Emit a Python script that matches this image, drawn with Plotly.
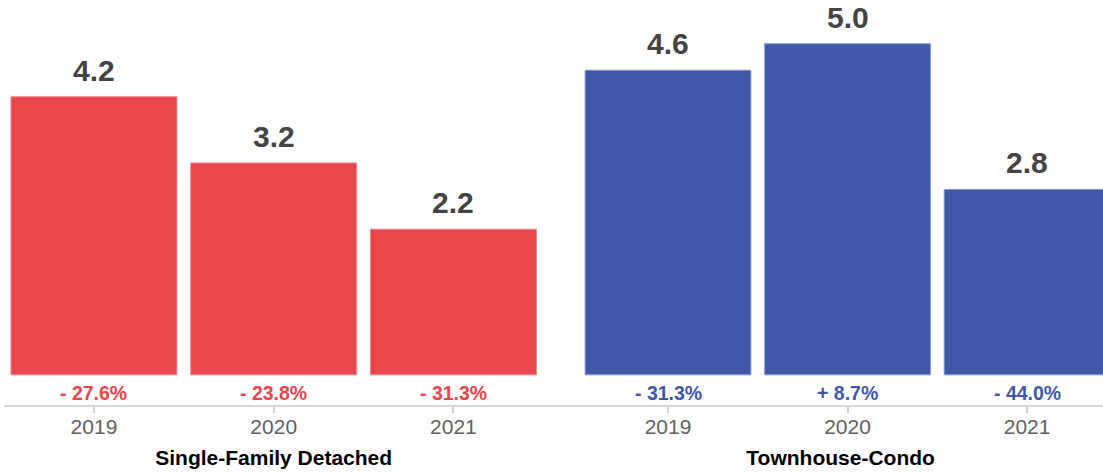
import plotly.graph_objects as go

years = ["2019", "2020", "2021"]
sfd_values = [4.2, 3.2, 2.2]
sfd_changes = ["- 27.6%", "- 23.8%", "- 31.3%"]
tc_values = [4.6, 5.0, 2.8]
tc_changes = ["- 31.3%", "+ 8.7%", "- 44.0%"]
group_names = ["Single-Family Detached", "Townhouse-Condo"]

RED = "#E8464C"
BLUE = "#3F58A8"
FONT = "Liberation Sans, Arial, sans-serif"
W, H = 1103, 472

fig = go.Figure()

fig.add_trace(go.Bar(
    x=years, y=sfd_values, xaxis="x", yaxis="y",
    marker=dict(color=RED, line=dict(color="#F08A8E", width=1)),
    showlegend=False, hoverinfo="skip",
))
fig.add_trace(go.Bar(
    x=years, y=tc_values, xaxis="x2", yaxis="y2",
    marker=dict(color=BLUE, line=dict(color="#8A9BD0", width=1)),
    showlegend=False, hoverinfo="skip",
))

for vals, ch, col, xr, yr in [(sfd_values, sfd_changes, RED, "x", "y"),
                              (tc_values, tc_changes, BLUE, "x2", "y2")]:
    for i, (v, t) in enumerate(zip(vals, ch)):
        # value label above the bar
        fig.add_annotation(x=i, y=v, xref=xr, yref=yr, text=f"{v:.1f}",
                           showarrow=False, yanchor="bottom", yshift=8,
                           font=dict(size=30, color="#444444", family=FONT, weight="bold"))
        # change label below the bar
        fig.add_annotation(x=i, y=-0.27, xref=xr, yref=yr, text=t,
                           showarrow=False, yanchor="middle",
                           font=dict(size=19.5, color=col, family=FONT, weight="bold"))

yrange = [-0.47, 5.66]
axis_common = dict(
    type="category", showline=False, showgrid=False, zeroline=False,
    ticks="outside", ticklen=6, tickwidth=1.5, tickcolor="#d0d0d0",
    tickfont=dict(size=21, color="#606060", family=FONT),
    ticklabelstandoff=-4,
    fixedrange=True,
)
fig.update_layout(
    width=W, height=H,
    margin=dict(l=0, r=0, t=0, b=66),
    paper_bgcolor="white", plot_bgcolor="white",
    bargap=0.0765,
    xaxis=dict(domain=[4.1 / W, 543.3 / W], range=[-0.5, 2.5],
               title=dict(text=group_names[0], standoff=13,
                          font=dict(size=21, color="#000000", family=FONT, weight="bold")),
               anchor="y", **axis_common),
    xaxis2=dict(domain=[578.25 / W, 1.0], range=[-0.5, 2.423],
                title=dict(text=group_names[1], standoff=13,
                           font=dict(size=21, color="#000000", family=FONT, weight="bold")),
                anchor="y2", **axis_common),
    yaxis=dict(range=yrange, visible=False, fixedrange=True),
    yaxis2=dict(range=yrange, visible=False, fixedrange=True, anchor="x2"),
)

fig.add_shape(type="line", xref="paper", yref="y domain", x0=4 / W, x1=1.0,
              y0=0, y1=0, line=dict(color="#d6d6d6", width=2), layer="above")

fig.write_html("out.html", config={"displayModeBar": False},
               post_script="document.body.style.margin='0';")
